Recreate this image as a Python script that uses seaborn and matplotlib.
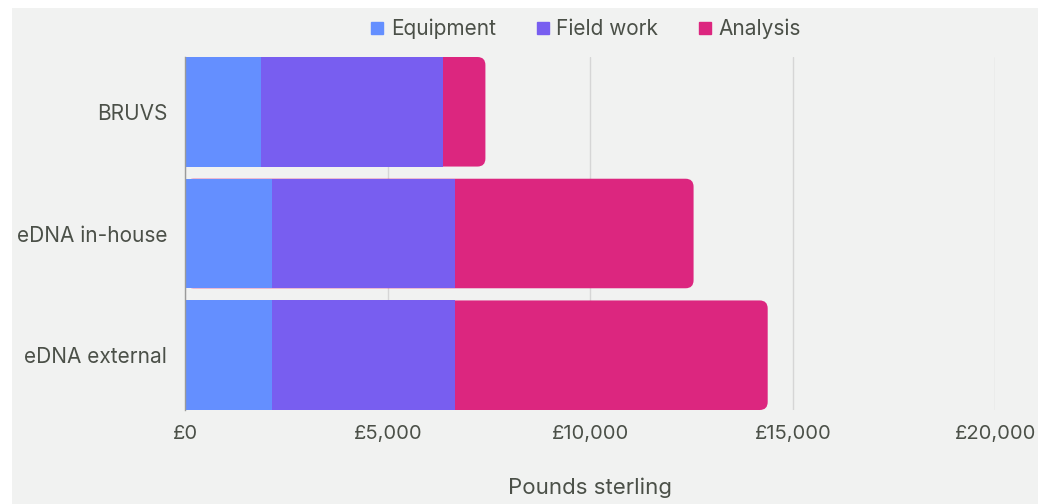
import matplotlib
matplotlib.use("Agg")
import matplotlib.pyplot as plt
from matplotlib.patches import FancyBboxPatch, Rectangle
from matplotlib.transforms import IdentityTransform
from matplotlib.lines import Line2D
import seaborn as sns
import pandas as pd

# Cost breakdown per survey method (GBP)
methods = ["BRUVS", "eDNA in-house", "eDNA external"]
equipment = [1870, 2150, 2150]
field_work = [4500, 4500, 4500]
analysis = [1040, 5900, 7730]
segments = ["Equipment", "Field work", "Analysis"]
colors = ["#648fff", "#785ef0", "#dc267f"]
x_ticks = [0, 5000, 10000, 15000, 20000]
x_tick_labels = ["£0", "£5,000", "£10,000", "£15,000", "£20,000"]

BG = "#f1f2f1"
TEXT = "#4b5048"
W, H = 1050, 504

sns.set_theme(style="white")
plt.rcParams["font.family"] = ["Inter", "DejaVu Sans"]

df = pd.DataFrame({"method": methods, "Equipment": equipment,
                   "Field work": field_work, "Analysis": analysis})
df["to_field"] = df["Equipment"] + df["Field work"]
df["total"] = df["to_field"] + df["Analysis"]

fig = plt.figure(figsize=(W / 100, H / 100), dpi=100)
fig.patch.set_facecolor("white")
fig.patches.append(Rectangle((12 / W, 0), 1026 / W, 496 / H, transform=fig.transFigure,
                             facecolor=BG, edgecolor="none", zorder=-10))

ax_left, ax_right, ax_top, ax_bottom = 185.3, 995.3, 57.0, 410.0
ax = fig.add_axes([ax_left / W, 1 - ax_bottom / H, (ax_right - ax_left) / W,
                   (ax_bottom - ax_top) / H])
ax.set_facecolor("none")
ax.set_axisbelow(True)

bar_w = 0.9
# Stacked bars: draw cumulative totals back to front
sns.barplot(data=df, x="total", y="method", color=colors[2], width=bar_w,
            saturation=1, ax=ax, orient="h", linewidth=0)
sns.barplot(data=df, x="to_field", y="method", color=colors[1], width=bar_w,
            saturation=1, ax=ax, orient="h", linewidth=0)
sns.barplot(data=df, x="Equipment", y="method", color=colors[0], width=bar_w,
            saturation=1, ax=ax, orient="h", linewidth=0)

ax.set_xlim(0, 20000)
ax.set_ylim(len(methods) - 1 + bar_w / 2, -bar_w / 2)

patches = list(ax.patches)
total_bars = patches[:len(methods)]
field_bars = patches[len(methods):2 * len(methods)]
equip_bars = patches[2 * len(methods):3 * len(methods)]

# Round the outer end of each full-length bar (radius in pixels)
radius_px = 8
for p in total_bars:
    x0, y0, w, h = p.get_x(), p.get_y(), p.get_width(), p.get_height()
    (px0, py0), (px1, py1) = ax.transData.transform([(x0, y0), (x0 + w, y0 + h)])
    fc = p.get_facecolor()
    p.set_visible(False)
    rounded = FancyBboxPatch((min(px0, px1), min(py0, py1)), abs(px1 - px0), abs(py1 - py0),
                             boxstyle=f"round,pad=0,rounding_size={radius_px}",
                             mutation_scale=1, transform=IdentityTransform(),
                             facecolor=fc, edgecolor="none", zorder=1)
    ax.add_artist(rounded)
for p in field_bars:
    p.set_zorder(2)
for p in equip_bars:
    p.set_zorder(3)

ax.set_xticks(x_ticks)
ax.set_xticklabels(x_tick_labels)
ax.grid(axis="x", color="#d6d6d6", linewidth=1)
ax.grid(axis="y", visible=False)
for s in ["top", "right", "bottom"]:
    ax.spines[s].set_visible(False)
ax.spines["left"].set_color("#9a9a9a")
ax.spines["left"].set_linewidth(1)
ax.spines["left"].set_zorder(4)

ax.tick_params(axis="x", length=0, labelsize=14.5, colors=TEXT, pad=11)
ax.tick_params(axis="y", length=0, labelsize=15, colors=TEXT, pad=13)
ax.set_ylabel("")
ax.set_xlabel("Pounds sterling", fontsize=16, color=TEXT, labelpad=25)

handles = [Line2D([], [], marker="s", linestyle="none", markersize=8,
                  markerfacecolor=c, markeredgecolor=c) for c in colors]
ax.legend(handles, segments, loc="center", bbox_to_anchor=(0.4947, 1.08), ncol=3,
          frameon=False, fontsize=15, handlelength=0.6, handletextpad=0.35,
          columnspacing=1.95, labelcolor=TEXT)

fig.savefig("out.png", dpi=100, facecolor=fig.get_facecolor())
